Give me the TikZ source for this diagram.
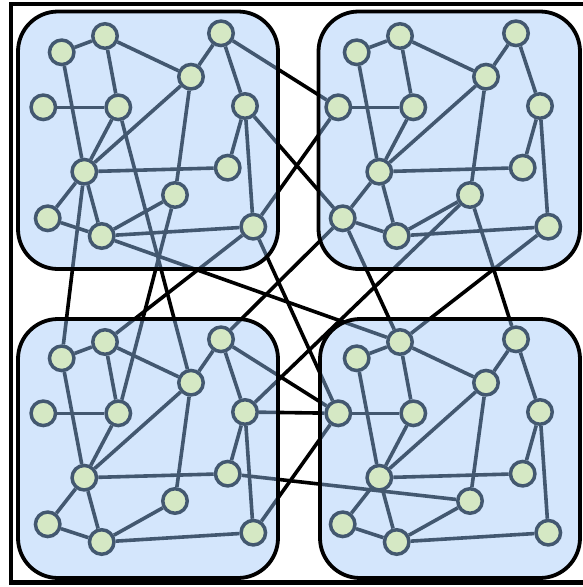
\documentclass[tikz,border=0pt]{standalone}
\usetikzlibrary{backgrounds}
\definecolor{boxfill}{HTML}{D4E6FC}
\definecolor{vertexfill}{HTML}{D5E8C4}
\definecolor{slate}{HTML}{435870}
\pgfdeclarelayer{crosslines}
\pgfdeclarelayer{boxlayer}
\pgfdeclarelayer{edgelayer}
\pgfsetlayers{crosslines,boxlayer,edgelayer,main}
\tikzset{
  vertex/.style={circle, draw=slate, fill=vertexfill, line width=3.5pt,
    minimum size=24.5pt, inner sep=0pt},
  inner/.style={draw=slate, line width=3.6pt},
  cross/.style={draw=black, line width=3.6pt},
  crossin/.style={draw=slate, line width=3.6pt},
  cluster/.style={rounded corners=40pt, line width=3.8pt},
  frame/.style={draw=black, line width=4.5pt}
}
\newcommand{\clusterboxes}{%
  (18,11.5) rectangle (278,269)
  (318.5,11.5) rectangle (580,269)
  (18,319) rectangle (278,578)
  (320,319) rectangle (580,578)}
\def\crossedges{tl-c/tr-e, tl-m/tr-e, tl-g/tr-k, tl-h/bl-a, tl-f/bl-d,
  tl-j/bl-f, tl-m/bl-b, tl-l/br-b, tl-m/br-e, tr-k/bl-c, tr-k/br-b,
  tr-j/bl-g, tr-j/br-c, tr-m/br-b, bl-c/br-e, bl-g/br-e, bl-i/br-j,
  bl-m/br-e}
\begin{document}
\begin{tikzpicture}[x=1pt, y=-1pt]
  \useasboundingbox (0,0) rectangle (582,587);
  % outer frame
  \draw[frame] (10.8,4) rectangle (600,582.5);

  % vertices of the four clusters
  \foreach \cl/\dx/\dy in {tl/0/0, tr/295/0, bl/0/306, br/295/306} {
    \foreach \n/\x/\y in {a/61.7/52.3, b/105/36, c/221/33.3, d/191/76.7,
        e/43.3/107.3, f/118.3/107.3, g/245/106, h/84.3/171.7,
        i/227.7/167.7, j/175/195, k/47.7/218.3, l/101.7/236, m/253.3/226.7} {
      \node[vertex] (\cl-\n) at (\x+\dx, \y+\dy) {};
    }
  }

  % links between clusters, black outside the boxes
  \begin{pgfonlayer}{crosslines}
    \foreach \u/\v in \crossedges { \draw[cross] (\u) -- (\v); }
  \end{pgfonlayer}

  % cluster backgrounds
  \begin{pgfonlayer}{boxlayer}
    \fill[boxfill, rounded corners=40pt] \clusterboxes;
  \end{pgfonlayer}

  \begin{pgfonlayer}{edgelayer}
    % the same links, in slate where they run inside a box
    \begin{scope}
      \clip[rounded corners=40pt] \clusterboxes;
      \foreach \u/\v in \crossedges { \draw[crossin] (\u) -- (\v); }
    \end{scope}
    % links inside each cluster
    \foreach \cl in {tl,tr,bl,br} {
      \foreach \u/\v in {a/b, b/d, a/h, b/f, e/f, f/h, d/h, c/d, c/g, d/j,
          g/i, g/m, h/i, h/k, h/l, k/l, j/l, l/m} {
        \draw[inner] (\cl-\u) -- (\cl-\v);
      }
    }
    % cluster outlines
    \draw[cluster] \clusterboxes;
  \end{pgfonlayer}
\end{tikzpicture}
\end{document}
